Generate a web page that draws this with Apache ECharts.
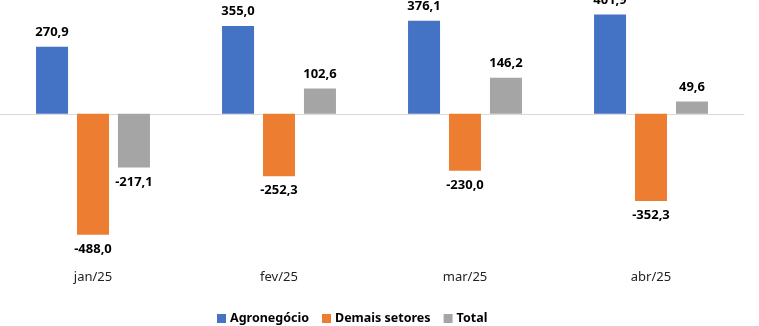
<!DOCTYPE html>
<html><head><meta charset="utf-8">
<script src="https://cdn.jsdelivr.net/npm/echarts@6/dist/echarts.min.js"></script>
<style>html,body{margin:0;padding:0;background:#fff}#c{width:759px;height:326px}</style>
</head><body><div id="c"></div>
<script>
var categories = ['jan/25', 'fev/25', 'mar/25', 'abr/25'];
var seriesNames = ['Agronegócio', 'Demais setores', 'Total'];
var agro = [270.9, 355.0, 376.1, 401.9];
var demais = [-488.0, -252.3, -230.0, -352.3];
var total = [-217.1, 102.6, 146.2, 49.6];
var colors = ['#4472C4', '#ED7D31', '#A5A5A5'];
var FONT = 'Noto Sans';

function fmt(v) { return v.toFixed(1).replace('.', ','); }

function mk(name, data, color) {
  return {
    name: name, type: 'bar', xAxisIndex: 0, yAxisIndex: 0,
    barWidth: 32, barGap: '28%',
    itemStyle: { color: color },
    data: data.map(function (v) {
      return {
        value: v,
        label: {
          show: true, position: v >= 0 ? 'top' : 'bottom', distance: 8,
          formatter: function (p) { return fmt(p.value); },
          fontFamily: FONT, fontSize: 13, fontWeight: 'bold', color: '#000'
        }
      };
    })
  };
}

var chart = echarts.init(document.getElementById('c'), null, { renderer: 'canvas' });
chart.setOption({
  animation: false,
  textStyle: { fontFamily: FONT },
  grid: { left: -3, right: 15, top: 0, bottom: 88.4, containLabel: false },
  legend: {
    data: seriesNames, left: 212, top: 307, itemWidth: 9, itemHeight: 9, itemGap: 13,
    icon: 'rect',
    textStyle: { fontFamily: FONT, fontSize: 12.5, fontWeight: 'bold', color: '#000', padding: [0, 0, 0, -1] }
  },
  xAxis: [
    {
      type: 'category', data: categories,
      axisLine: { show: false, onZero: false }, axisTick: { show: false },
      axisLabel: { margin: 33, fontFamily: FONT, fontSize: 13, color: '#222' }
    },
    {
      type: 'category', data: categories, position: 'bottom',
      axisLine: { show: true, onZero: true, lineStyle: { color: '#D9D9D9', width: 1 } },
      axisTick: { show: false }, axisLabel: { show: false }
    }
  ],
  yAxis: {
    type: 'value', min: -500, max: 460, show: false, splitLine: { show: false }
  },
  series: [
    mk(seriesNames[0], agro, colors[0]),
    mk(seriesNames[1], demais, colors[1]),
    mk(seriesNames[2], total, colors[2])
  ]
});
</script></body></html>
